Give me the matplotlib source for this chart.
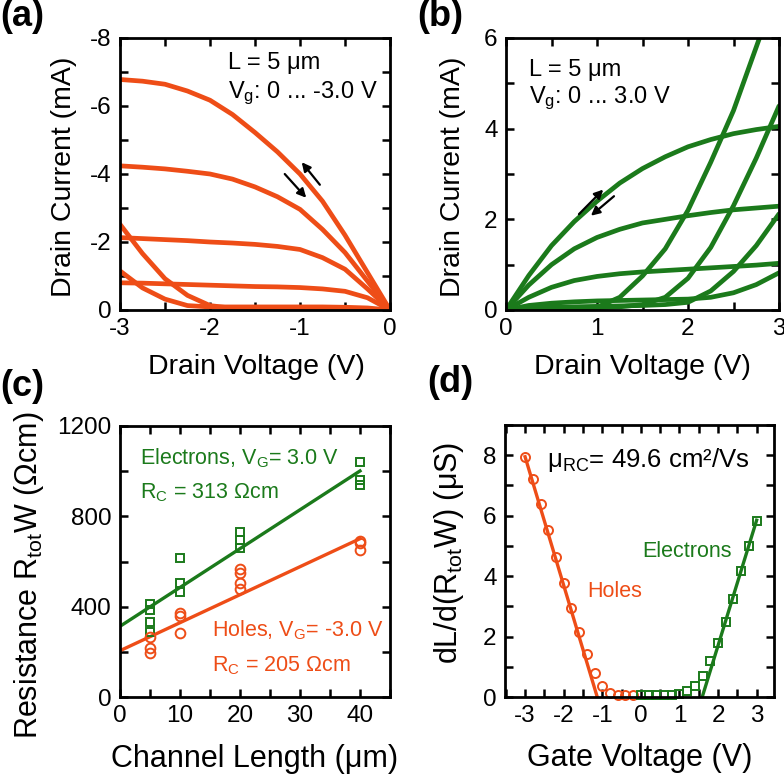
import numpy as np
import matplotlib
matplotlib.use('Agg')
import matplotlib.pyplot as plt
from matplotlib.ticker import MultipleLocator

plt.rcParams['font.family'] = ['Liberation Sans', 'DejaVu Sans']
plt.rcParams['mathtext.fontset'] = 'custom'
plt.rcParams['mathtext.rm'] = 'Liberation Sans'
plt.rcParams['mathtext.it'] = 'Liberation Sans:italic'
plt.rcParams['mathtext.bf'] = 'Liberation Sans:bold'
plt.rcParams['axes.unicode_minus'] = False

ORANGE = '#EE4D17'
GREEN = '#1B7A1B'

# ---------------- (a) p-type output curves ----------------
vd_a = [-3.0, -2.75, -2.5, -2.25, -2.0, -1.75, -1.5, -1.25, -1.0, -0.75, -0.5, -0.25, 0.0]
id_a_vg30 = [-6.78, -6.73, -6.64, -6.44, -6.17, -5.75, -5.22, -4.65, -4.00, -3.20, -2.20, -1.10, 0.0]
id_a_vg24 = [-4.24, -4.20, -4.15, -4.08, -4.00, -3.85, -3.62, -3.33, -2.96, -2.37, -1.69, -0.85, 0.0]
id_a_vg18 = [-2.13, -2.10, -2.07, -2.04, -2.00, -1.97, -1.93, -1.87, -1.78, -1.54, -1.20, -0.62, 0.0]
id_a_vg12 = [-0.80, -0.79, -0.77, -0.75, -0.73, -0.71, -0.69, -0.68, -0.66, -0.62, -0.55, -0.36, 0.0]
id_a_vg06 = [-1.15, -0.65, -0.32, -0.13, -0.09, -0.09, -0.09, -0.09, -0.09, -0.09, -0.08, -0.06, 0.0]
id_a_vg00 = [-2.52, -1.66, -0.92, -0.43, -0.13, -0.05, -0.04, -0.04, -0.04, -0.04, -0.03, -0.02, 0.0]
curves_a = [id_a_vg30, id_a_vg24, id_a_vg18, id_a_vg12, id_a_vg06, id_a_vg00]

# ---------------- (b) n-type output curves ----------------
vd_b = [0.0, 0.25, 0.5, 0.75, 1.0, 1.25, 1.5, 1.75, 2.0, 2.25, 2.5, 2.75, 3.0]
id_b_vg30 = [0.0, 0.76, 1.42, 1.95, 2.40, 2.80, 3.12, 3.38, 3.60, 3.76, 3.89, 3.98, 4.05]
id_b_vg25 = [0.0, 0.55, 1.00, 1.35, 1.60, 1.78, 1.92, 2.00, 2.08, 2.15, 2.21, 2.25, 2.29]
id_b_vg20 = [0.0, 0.28, 0.50, 0.65, 0.74, 0.80, 0.84, 0.87, 0.90, 0.93, 0.96, 0.99, 1.03]
id_b_vg15 = [0.0, 0.10, 0.15, 0.18, 0.20, 0.21, 0.22, 0.23, 0.24, 0.28, 0.38, 0.56, 0.82]
id_b_vg10 = [0.0, 0.04, 0.06, 0.07, 0.08, 0.09, 0.10, 0.12, 0.17, 0.42, 0.85, 1.42, 2.12]
id_b_vg05 = [0.0, 0.02, 0.03, 0.04, 0.05, 0.07, 0.12, 0.28, 0.70, 1.38, 2.30, 3.35, 4.50]
id_b_vg00 = [0.0, 0.01, 0.01, 0.02, 0.06, 0.28, 0.75, 1.35, 2.20, 3.26, 4.40, 5.80, 7.20]
curves_b = [id_b_vg30, id_b_vg25, id_b_vg20, id_b_vg15, id_b_vg10, id_b_vg05, id_b_vg00]

# ---------------- (c) TLM ----------------
elec_L = [5, 5, 5, 5, 10, 10, 10, 20, 20, 20, 40, 40, 40]
elec_R = [411, 384, 334, 288, 616, 507, 467, 729, 695, 660, 1042, 961, 938]
hole_L = [5, 5, 5, 10, 10, 10, 20, 20, 20, 20, 40, 40, 40]
hole_R = [264, 215, 194, 372, 358, 284, 569, 549, 503, 478, 692, 680, 650]
fit_L = [0, 40]
elec_rc, elec_slope = 313, 17.2
hole_rc, hole_slope = 205, 12.4

# ---------------- (d) dL/d(RW) ----------------
hole_vg = [-3.0, -2.8, -2.6, -2.4, -2.2, -2.0, -1.8, -1.6, -1.4, -1.2, -1.0, -0.8, -0.6, -0.4, -0.2]
hole_g = [7.94, 7.20, 6.37, 5.51, 4.63, 3.78, 2.94, 2.14, 1.41, 0.80, 0.37, 0.14, 0.08, 0.07, 0.07]
elec_vg = [0.0, 0.2, 0.4, 0.6, 0.8, 1.0, 1.2, 1.4, 1.6, 1.8, 2.0, 2.2, 2.4, 2.6, 2.8, 3.0]
elec_g = [0.08, 0.08, 0.08, 0.08, 0.08, 0.10, 0.20, 0.37, 0.70, 1.20, 1.80, 2.49, 3.25, 4.17, 5.00, 5.83]
hole_fit_vg = [-3.0, -1.13]
hole_fit_g = [7.95, 0.0]
elec_fit_vg = [1.59, 3.0]
elec_fit_g = [0.0, 5.85]

W, H = 784, 775
fig = plt.figure(figsize=(W / 100, H / 100), dpi=100)


def box(l, t, r, b):
    return [l / W, 1 - b / H, (r - l) / W, (b - t) / H]


def style(ax):
    for s in ax.spines.values():
        s.set_linewidth(2.0)
    ax.tick_params(which='both', direction='in', top=True, right=True,
                   length=6, width=1.8, labelsize=17.5, pad=6)


LAB_TOP = 20.5
LAB_BOT = 22
LW_IV = 3.4

# (a)
axa = fig.add_axes(box(120, 38, 390, 310))
for c in curves_a:
    axa.plot(vd_a, c, color=ORANGE, lw=LW_IV, solid_joinstyle='round', solid_capstyle='round')
axa.set_xlim(-3, 0)
axa.set_ylim(0, -8)
axa.xaxis.set_major_locator(MultipleLocator(1))
axa.xaxis.set_minor_locator(MultipleLocator(0.5))
axa.yaxis.set_major_locator(MultipleLocator(2))
axa.yaxis.set_minor_locator(MultipleLocator(1))
style(axa)
axa.set_xlabel('Drain Voltage (V)', fontsize=LAB_TOP)
axa.set_ylabel('Drain Current (mA)', fontsize=LAB_TOP)
axa.xaxis.set_label_coords(0.507, -0.16)
axa.yaxis.set_label_coords(-0.16, 0.49)
axa.text(-1.8, -7.26, 'L = 5 μm', fontsize=17, va='center', ha='left')
axa.text(-1.8, -6.38, r'V$_\mathregular{g}$: 0 ... -3.0 V', fontsize=17, va='center', ha='left')
arr = dict(arrowstyle='-|>', color='k', lw=1.6, mutation_scale=13)
axa.annotate('', xy=(-0.91, -3.24), xytext=(-1.19, -4.06), arrowprops=arr)
axa.annotate('', xy=(-1.0, -4.41), xytext=(-0.76, -3.62), arrowprops=arr)

# (b)
axb = fig.add_axes(box(506, 38, 779, 310))
for c in curves_b:
    axb.plot(vd_b, c, color=GREEN, lw=LW_IV, solid_joinstyle='round', solid_capstyle='round')
axb.set_xlim(0, 3)
axb.set_ylim(0, 6)
axb.xaxis.set_major_locator(MultipleLocator(1))
axb.xaxis.set_minor_locator(MultipleLocator(0.5))
axb.yaxis.set_major_locator(MultipleLocator(2))
axb.yaxis.set_minor_locator(MultipleLocator(1))
style(axb)
axb.set_xlabel('Drain Voltage (V)', fontsize=LAB_TOP)
axb.set_ylabel('Drain Current (mA)', fontsize=LAB_TOP)
axb.xaxis.set_label_coords(0.5, -0.16)
axb.yaxis.set_label_coords(-0.147, 0.49)
axb.text(0.25, 5.3, 'L = 5 μm', fontsize=17, va='center', ha='left')
axb.text(0.25, 4.68, r'V$_\mathregular{g}$: 0 ... 3.0 V', fontsize=17, va='center', ha='left')
axb.annotate('', xy=(1.09, 2.70), xytext=(0.78, 2.07), arrowprops=arr)
axb.annotate('', xy=(0.91, 2.04), xytext=(1.21, 2.55), arrowprops=arr)

# (c)
axc = fig.add_axes(box(120, 426, 390, 697))
fl = np.array(fit_L, dtype=float)
axc.plot(fl, elec_rc + elec_slope * fl, color=GREEN, lw=2.4)
axc.plot(fl, hole_rc + hole_slope * fl, color=ORANGE, lw=2.4)
axc.plot(elec_L, elec_R, ls='none', marker='s', ms=6, mfc='none', mec=GREEN, mew=1.4)
axc.plot(hole_L, hole_R, ls='none', marker='o', ms=7, mfc='none', mec=ORANGE, mew=1.4)
axc.set_xlim(0, 45)
axc.set_ylim(0, 1200)
axc.xaxis.set_major_locator(MultipleLocator(10))
axc.xaxis.set_minor_locator(MultipleLocator(5))
axc.yaxis.set_major_locator(MultipleLocator(400))
axc.yaxis.set_minor_locator(MultipleLocator(200))
style(axc)
axc.set_xlabel('Channel Length (μm)', fontsize=LAB_BOT)
axc.set_ylabel(r'Resistance R$_\mathregular{tot}$W (Ωcm)', fontsize=LAB_BOT)
axc.xaxis.set_label_coords(0.5, -0.175)
axc.yaxis.set_label_coords(-0.275, 0.45)
axc.text(3.3, 1059, r'Electrons, V$_\mathregular{G}$= 3.0 V', color=GREEN, fontsize=15.5, va='center')
axc.text(3.3, 904, r'R$_\mathregular{C}$ = 313 Ωcm', color=GREEN, fontsize=15.5, va='center')
axc.text(15.3, 297, r'Holes, V$_\mathregular{G}$= -3.0 V', color=ORANGE, fontsize=15.5, va='center')
axc.text(15.3, 137, r'R$_\mathregular{C}$ = 205 Ωcm', color=ORANGE, fontsize=15.5, va='center')

# (d)
axd = fig.add_axes(box(505, 425, 774, 697))
axd.plot(hole_fit_vg, hole_fit_g, color=ORANGE, lw=2.4)
axd.plot(elec_fit_vg, elec_fit_g, color=GREEN, lw=2.4)
axd.plot(hole_vg, hole_g, ls='none', marker='o', ms=6.5, mfc='none', mec=ORANGE, mew=1.4, clip_on=False)
axd.plot(elec_vg, elec_g, ls='none', marker='s', ms=5.5, mfc='none', mec=GREEN, mew=1.4, clip_on=False)
axd.set_xlim(-3.52, 3.45)
axd.set_ylim(0, 9)
axd.xaxis.set_major_locator(MultipleLocator(1))
axd.xaxis.set_minor_locator(MultipleLocator(0.5))
axd.yaxis.set_major_locator(MultipleLocator(2))
axd.yaxis.set_minor_locator(MultipleLocator(1))
style(axd)
axd.set_xlabel('Gate Voltage (V)', fontsize=LAB_BOT)
axd.set_ylabel(r'dL/d(R$_\mathregular{tot}$W) (μS)', fontsize=LAB_BOT)
axd.xaxis.set_label_coords(0.5, -0.17)
axd.yaxis.set_label_coords(-0.145, 0.53)
axd.text(-2.43, 7.83, r'μ$_\mathregular{RC}$= 49.6 cm²/Vs', fontsize=18.5, va='center')
axd.text(0.03, 4.8, 'Electrons', color=GREEN, fontsize=15.5, va='center')
axd.text(-1.39, 3.5, 'Holes', color=ORANGE, fontsize=15.5, va='center')

# panel labels
for lab, x, y in [('(a)', 0, 17), ('(b)', 417, 17), ('(c)', 0, 387), ('(d)', 427, 383)]:
    fig.text(x / W, 1 - y / H, lab, fontsize=26, fontweight='bold', va='center', ha='left')

fig.savefig('out.png', dpi=100)
